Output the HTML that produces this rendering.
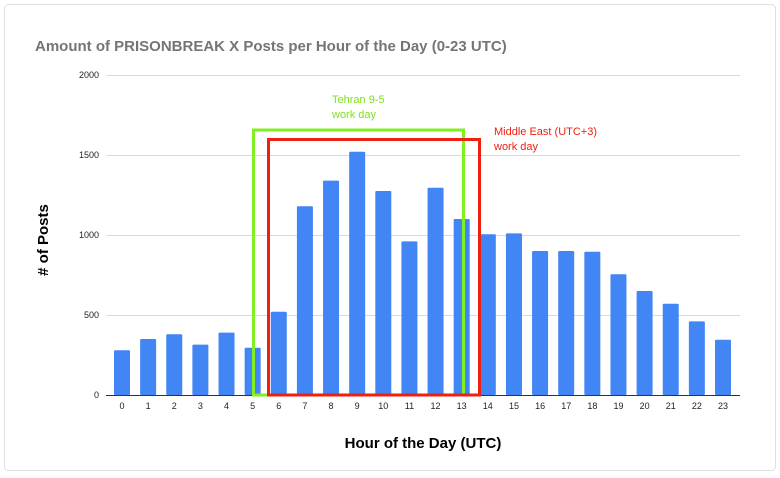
<!DOCTYPE html><html><head><style>body{margin:0;background:#fff}</style></head><body>
<svg width="780" height="473" xmlns="http://www.w3.org/2000/svg" font-family="Liberation Sans, Arial, sans-serif">
<rect x="4.5" y="4.5" width="771" height="466" rx="4" fill="#fff" stroke="#e0e0e0"/>
<text x="35" y="51" font-size="15" font-weight="bold" fill="#757575">Amount of PRISONBREAK X Posts per Hour of the Day (0-23 UTC)</text>
<g stroke="#d9d9d9" stroke-width="1">
<line x1="106" x2="740" y1="75.5" y2="75.5"/><line x1="106" x2="740" y1="155.5" y2="155.5"/><line x1="106" x2="740" y1="235.5" y2="235.5"/><line x1="106" x2="740" y1="315.5" y2="315.5"/>
</g>
<line x1="106" x2="740" y1="395.5" y2="395.5" stroke="#333"/>
<g font-size="9" fill="#222" text-anchor="end">
<text x="99" y="78">2000</text><text x="99" y="158">1500</text><text x="99" y="238">1000</text><text x="99" y="318">500</text><text x="99" y="398">0</text>
</g>
<g id="bars" fill="#4285f4"></g>
<g id="lbl" font-size="9" fill="#222" text-anchor="middle"></g>
<text x="48" y="240" font-size="15" font-weight="bold" fill="#000" text-anchor="middle" transform="rotate(-90 48 240)"># of Posts</text>
<text x="423" y="448" font-size="15" font-weight="bold" fill="#000" text-anchor="middle">Hour of the Day (UTC)</text>
<rect x="253.5" y="130" width="210" height="265" fill="none" stroke="#80f020" stroke-width="3"/>
<rect x="268.5" y="139.5" width="211" height="255.5" fill="none" stroke="#f02010" stroke-width="3"/>
<text x="332" y="103" font-size="11" fill="#80e020">Tehran 9-5</text>
<text x="332" y="118" font-size="11" fill="#80e020">work day</text>
<text x="494" y="135" font-size="11" fill="#f02010">Middle East (UTC+3)</text>
<text x="494" y="150" font-size="11" fill="#f02010">work day</text>
</svg>
<script>
var v=[280,350,380,315,390,295,520,1180,1340,1520,1275,960,1295,1100,1005,1010,900,900,895,755,650,570,460,345];
var b=document.getElementById('bars'),l=document.getElementById('lbl'),ns='http://www.w3.org/2000/svg';
v.forEach(function(d,i){var cx=122+i*26.13,h=d*0.16;var r=document.createElementNS(ns,'rect');r.setAttribute('x',cx-8);r.setAttribute('y',395-h);r.setAttribute('width',16);r.setAttribute('height',h);r.setAttribute('rx',1);b.appendChild(r);
var t=document.createElementNS(ns,'text');t.setAttribute('x',cx);t.setAttribute('y',409);t.textContent=i;l.appendChild(t);});
</script>
</body></html>
